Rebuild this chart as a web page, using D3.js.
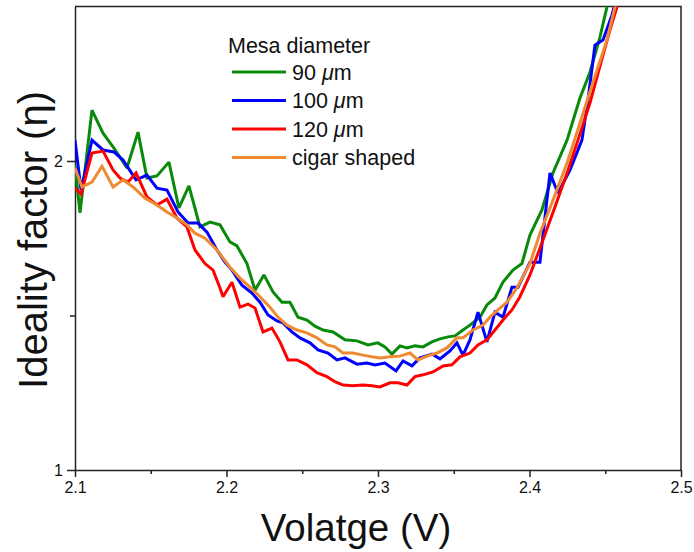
<!DOCTYPE html>
<html>
<head>
<meta charset="utf-8">
<script src="https://cdn.jsdelivr.net/npm/d3@7/dist/d3.min.js"></script>
<style>
  html, body { margin: 0; padding: 0; background: #fff; }
  svg { display: block; font-family: "Liberation Sans", Arial, sans-serif; }
</style>
</head>
<body>
<svg id="chart" width="694" height="552"></svg>
<script>
// ---- Data ----
const seriesNames = ["90 \u03bcm", "100 \u03bcm", "120 \u03bcm", "cigar shaped"];
const seriesColors = ["#0a8a0a", "#0000ff", "#ff0000", "#f08a32"];

const v90 = [2.100,2.1033,2.1112,2.1185,2.1257,2.1343,2.1416,2.1475,2.1541,2.1620,2.1686,2.1752,2.1825,2.1891,2.1957,2.2023,2.2069,2.2135,2.2188,2.2247,2.2307,2.2366,2.2419,2.2472,2.2531,2.2584,2.2637,2.2703,2.2782,2.2861,2.2934,2.2999,2.3046,2.3092,2.3145,2.3191,2.3244,2.3297,2.3356,2.3409,2.3462,2.3508,2.3561,2.3607,2.3673,2.3719,2.3772,2.3825,2.3891,2.3950,2.4003,2.4082,2.4155,2.4248,2.4333,2.4399,2.4465,2.4511,2.4558];
const eta90 = [1.982,1.780,2.242,2.129,2.059,1.969,2.134,1.925,1.934,1.995,1.800,1.891,1.725,1.744,1.733,1.668,1.653,1.589,1.497,1.549,1.491,1.457,1.457,1.409,1.400,1.381,1.369,1.363,1.339,1.336,1.324,1.330,1.318,1.297,1.321,1.315,1.321,1.318,1.333,1.342,1.348,1.351,1.369,1.384,1.409,1.448,1.471,1.524,1.566,1.589,1.694,1.792,1.947,2.096,2.303,2.441,2.641,2.825,2.967];

const v100 = [2.100,2.104,2.1112,2.1185,2.1257,2.1317,2.1403,2.1475,2.1541,2.1607,2.1680,2.1746,2.1812,2.1871,2.1937,2.199,2.2036,2.2102,2.2168,2.2221,2.2274,2.2333,2.2373,2.2432,2.2485,2.2551,2.2604,2.2670,2.2729,2.2782,2.2861,2.2927,2.2980,2.3046,2.3119,2.3165,2.3224,2.3277,2.3356,2.3409,2.3475,2.3521,2.3561,2.3607,2.3660,2.3719,2.3772,2.3825,2.3884,2.3924,2.4003,2.4069,2.4135,2.4188,2.4267,2.4346,2.4386,2.4432,2.4485,2.4544,2.4577];
const eta100 = [2.096,1.874,2.096,2.050,2.041,2.004,1.917,1.938,1.882,1.874,1.784,1.740,1.740,1.705,1.638,1.594,1.566,1.514,1.487,1.457,1.416,1.397,1.391,1.363,1.345,1.330,1.309,1.300,1.280,1.286,1.268,1.271,1.266,1.271,1.249,1.277,1.263,1.286,1.297,1.283,1.306,1.330,1.294,1.339,1.425,1.333,1.425,1.409,1.507,1.507,1.594,1.594,1.947,1.861,1.960,2.096,2.293,2.594,2.623,2.774,2.894];

const v120 = [2.100,2.104,2.1112,2.1185,2.1251,2.1297,2.1350,2.1403,2.1475,2.1541,2.1607,2.1673,2.1739,2.1792,2.1858,2.1911,2.1957,2.1977,2.2036,2.2089,2.2142,2.2188,2.2241,2.2300,2.2353,2.2406,2.2465,2.2531,2.2597,2.2663,2.2716,2.2769,2.2835,2.2901,2.2960,2.3013,2.3079,2.3132,2.3191,2.3244,2.3297,2.3363,2.3429,2.3488,2.3541,2.3607,2.3660,2.3719,2.3772,2.3825,2.3884,2.3937,2.4003,2.4089,2.4168,2.4248,2.4320,2.4399,2.4465,2.4531,2.4577,2.4597];
const eta120 = [1.882,1.857,2.036,2.045,1.960,1.925,1.908,1.947,1.845,1.812,1.836,1.760,1.725,1.638,1.589,1.566,1.504,1.475,1.524,1.441,1.451,1.438,1.363,1.375,1.333,1.280,1.280,1.266,1.244,1.233,1.219,1.210,1.208,1.210,1.208,1.205,1.216,1.216,1.210,1.233,1.238,1.246,1.263,1.266,1.289,1.300,1.324,1.339,1.369,1.400,1.432,1.475,1.549,1.675,1.804,1.947,2.096,2.277,2.474,2.683,2.825,2.894];

const vCigar = [2.100,2.1046,2.1112,2.1178,2.1251,2.1317,2.1383,2.1462,2.1541,2.1607,2.1673,2.1739,2.1792,2.1858,2.1937,2.2023,2.2089,2.2155,2.2221,2.2287,2.2340,2.2399,2.2465,2.2531,2.2597,2.2663,2.2716,2.2769,2.2835,2.2901,2.2960,2.3013,2.3079,2.3145,2.3211,2.3264,2.3323,2.3389,2.3455,2.3521,2.3561,2.3627,2.3693,2.3739,2.3792,2.3851,2.3917,2.3970,2.4003,2.4069,2.4155,2.4248,2.4333,2.4419,2.4511,2.4564,2.4584];
const etaCigar = [1.969,1.887,1.908,1.977,1.887,1.917,1.887,1.840,1.812,1.784,1.760,1.733,1.701,1.682,1.638,1.576,1.538,1.507,1.475,1.441,1.409,1.384,1.369,1.360,1.345,1.324,1.318,1.300,1.300,1.294,1.289,1.286,1.289,1.291,1.300,1.280,1.291,1.300,1.315,1.345,1.345,1.369,1.384,1.409,1.432,1.457,1.504,1.556,1.589,1.701,1.832,1.991,2.177,2.386,2.623,2.825,2.894];

const xTicks = [2.1, 2.2, 2.3, 2.4, 2.5];
const xMinorTicks = [2.15, 2.25, 2.35, 2.45];
const yTicks = [1, 2];
const yMinorTicks = [Math.SQRT2];
const xDomain = [2.1, 2.5];
const yDomain = [1, 2 * Math.SQRT2];

// ---- Layout ----
const W = 694, H = 552;
const m = { left: 75, right: 13, top: 6.5, bottom: 82 };
const pw = W - m.left - m.right, ph = H - m.top - m.bottom;

const svg = d3.select("#chart");
const x = d3.scaleLinear().domain(xDomain).range([m.left, m.left + pw]);
const y = d3.scaleLog().base(2).domain(yDomain).range([m.top + ph, m.top]);

svg.append("defs").append("clipPath").attr("id", "clip")
  .append("rect").attr("x", m.left).attr("y", m.top).attr("width", pw).attr("height", ph);

// frame (top & right)
svg.append("path")
  .attr("d", `M${m.left},${m.top}H${m.left + pw}V${m.top + ph}`)
  .attr("fill", "none").attr("stroke", "#222").attr("stroke-width", 1.5);

// x axis
svg.append("g").attr("transform", `translate(0,${m.top + ph})`)
  .call(d3.axisBottom(x).tickValues(xTicks).tickFormat(d3.format(".1f")).tickSize(7).tickSizeOuter(0).tickPadding(5));
svg.append("g").attr("transform", `translate(0,${m.top + ph})`)
  .call(d3.axisBottom(x).tickValues(xMinorTicks).tickFormat("").tickSize(4).tickSizeOuter(0))
  .select(".domain").remove();

// y axis
svg.append("g").attr("transform", `translate(${m.left},0)`)
  .call(d3.axisLeft(y).tickValues(yTicks).tickFormat(d3.format("d")).tickSize(8).tickSizeOuter(0).tickPadding(4));
svg.append("g").attr("transform", `translate(${m.left},0)`)
  .call(d3.axisLeft(y).tickValues(yMinorTicks).tickFormat("").tickSize(5).tickSizeOuter(0))
  .select(".domain").remove();

svg.selectAll(".tick line").attr("stroke", "#222").attr("stroke-width", 1.5);
svg.selectAll(".domain").attr("stroke", "#222").attr("stroke-width", 1.5);
svg.selectAll(".tick text").attr("font-size", 16).attr("fill", "#111")
  .attr("font-family", "'Liberation Sans', Arial, sans-serif");

// axis titles
svg.append("text").attr("x", 356).attr("y", 541)
  .attr("text-anchor", "middle").attr("font-size", 38.5).attr("fill", "#111")
  .text("Volatge (V)");
svg.append("text").attr("transform", `translate(47,${240}) rotate(-90)`)
  .attr("text-anchor", "middle").attr("font-size", 40).attr("fill", "#111")
  .text("Ideality factor (\u03b7)");

// series
const data = [
  d3.zip(v90, eta90),
  d3.zip(v100, eta100),
  d3.zip(v120, eta120),
  d3.zip(vCigar, etaCigar)
];
const line = d3.line().x(d => x(d[0])).y(d => y(d[1]));
const gl = svg.append("g").attr("clip-path", "url(#clip)");
data.forEach((s, i) => {
  gl.append("path").datum(s).attr("d", line)
    .attr("fill", "none").attr("stroke", seriesColors[i])
    .attr("stroke-width", 3).attr("stroke-linejoin", "miter").attr("stroke-miterlimit", 2);
});

// legend
const lg = svg.append("g");
lg.append("text").attr("x", 228).attr("y", 53).attr("font-size", 21.5).attr("fill", "#111").text("Mesa diameter");
seriesNames.forEach((name, i) => {
  const yy = 72 + i * 28.5;
  lg.append("line").attr("x1", 232).attr("x2", 286).attr("y1", yy).attr("y2", yy)
    .attr("stroke", seriesColors[i]).attr("stroke-width", 3);
  const t = lg.append("text").attr("x", 292).attr("y", yy + 7.5).attr("font-size", 21.5).attr("fill", "#111");
  if (name.includes("\u03bc")) {
    const parts = name.split("\u03bc");
    t.append("tspan").text(parts[0]);
    t.append("tspan").attr("font-style", "italic").text("\u03bc");
    t.append("tspan").text(parts[1]);
  } else {
    t.text(name);
  }
});
</script>
</body>
</html>
